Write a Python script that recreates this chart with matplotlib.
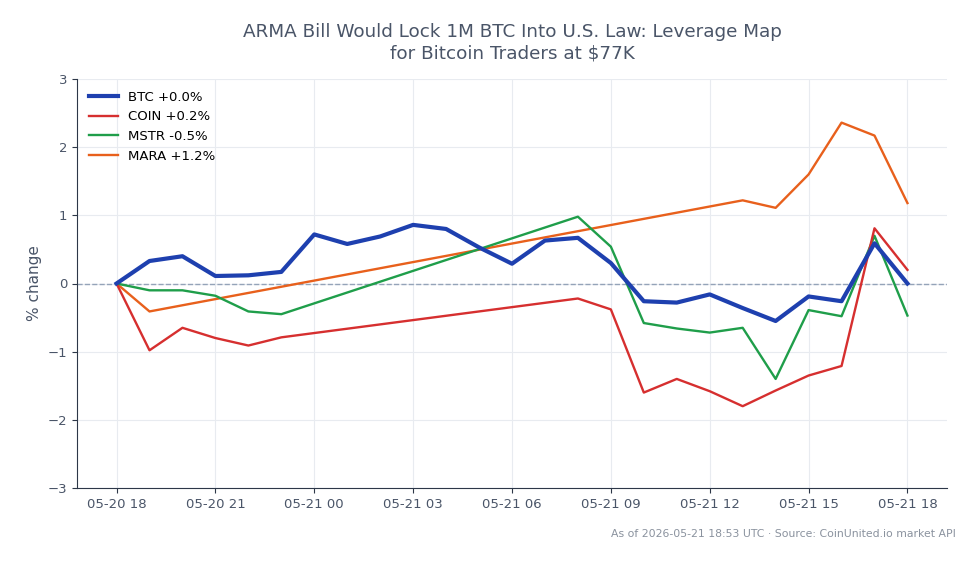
import matplotlib
matplotlib.use("Agg")
import matplotlib.pyplot as plt
import matplotlib.dates as mdates
import pandas as pd

# hourly timestamps (UTC)
hours = pd.date_range("2026-05-20 18:00", "2026-05-21 18:00", freq="h")

btc = [0.0, 0.33, 0.40, 0.11, 0.12, 0.17, 0.72, 0.58, 0.69, 0.86, 0.80, 0.53,
       0.29, 0.63, 0.67, 0.30, -0.26, -0.28, -0.16, -0.36, -0.55, -0.19, -0.26,
       0.59, 0.0]

# stocks: no prints between 05-21 00 and 07
stock_hours = list(hours[:6]) + list(hours[14:])
coin = [0.0, -0.98, -0.65, -0.80, -0.91, -0.79,
        -0.22, -0.38, -1.60, -1.40, -1.58, -1.80, -1.57, -1.35, -1.21, 0.81, 0.20]
mstr = [0.0, -0.10, -0.10, -0.18, -0.41, -0.45,
        0.98, 0.54, -0.58, -0.66, -0.72, -0.65, -1.40, -0.39, -0.48, 0.70, -0.47]

mara_hours = list(hours[:2]) + list(hours[19:])
mara = [0.0, -0.41, 1.22, 1.11, 1.60, 2.36, 2.17, 1.18]

title = "ARMA Bill Would Lock 1M BTC Into U.S. Law: Leverage Map\nfor Bitcoin Traders at $77K"
footer = "As of 2026-05-21 18:53 UTC \u00b7 Source: CoinUnited.io market API"

text_col = "#4a5568"

fig = plt.figure(figsize=(9.79, 5.64), dpi=100)
ax = fig.add_axes([77 / 979, 1 - 488 / 564, (947 - 77) / 979, (488 - 79) / 564])

ax.axhline(0, color="#94a3b8", lw=1, ls="--", zorder=1)
ax.plot(hours, btc, color="#1e40af", lw=3, label="BTC +0.0%", zorder=5)
ax.plot(stock_hours, coin, color="#d62f2f", lw=1.7, label="COIN +0.2%", zorder=4)
ax.plot(stock_hours, mstr, color="#1f9e4a", lw=1.7, label="MSTR -0.5%", zorder=3)
ax.plot(mara_hours, mara, color="#e8601c", lw=1.7, label="MARA +1.2%", zorder=2)

ax.set_ylim(-3, 3)
ax.set_yticks(range(-3, 4))
ax.xaxis.set_major_locator(mdates.HourLocator(byhour=range(0, 24, 3)))
ax.xaxis.set_major_formatter(mdates.DateFormatter("%m-%d %H"))

ax.grid(True, color="#e8ebf0", lw=0.8)
ax.set_axisbelow(True)
for s in ("top", "right"):
    ax.spines[s].set_visible(False)
for s in ("left", "bottom"):
    ax.spines[s].set_color("#2d3748")
ax.tick_params(colors=text_col, labelsize=9.5)
ax.tick_params(axis="both", color="#2d3748")
ax.set_ylabel("% change", color=text_col, fontsize=11)

ax.set_title(title, color=text_col, fontsize=13.2, pad=15)
leg = ax.legend(loc="upper left", frameon=False, fontsize=9.5, handlelength=2.2)

fig.text(0.976, 0.045, footer, ha="right", va="bottom", color="#8a929e", fontsize=7.8)

fig.savefig("out.png", dpi=100)
